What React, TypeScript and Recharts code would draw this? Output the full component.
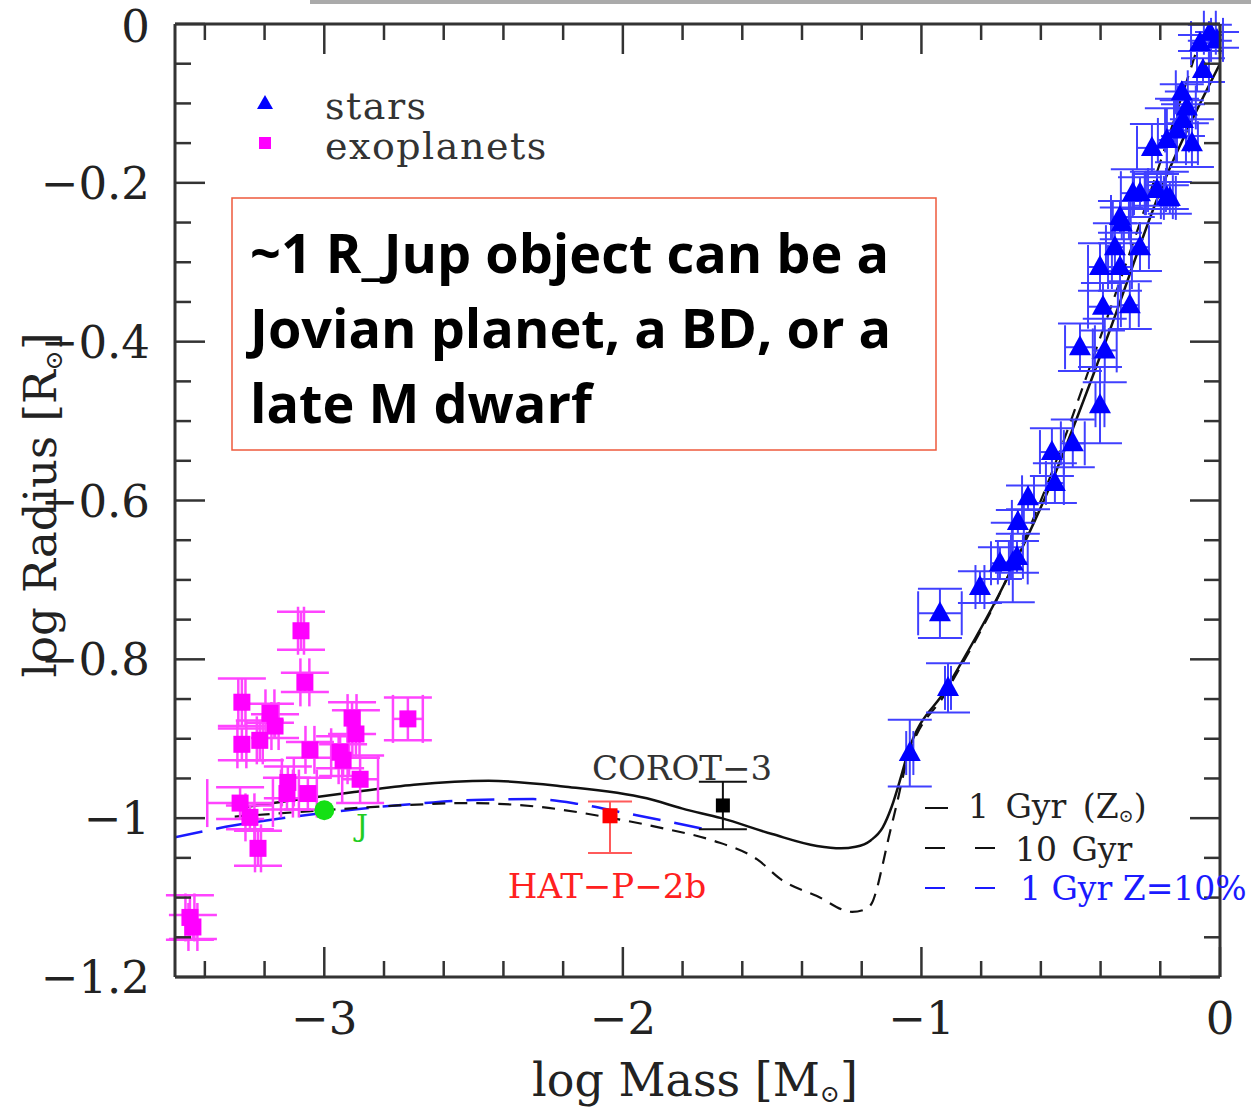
import React from 'react';
import { ComposedChart, Scatter, Line, XAxis, YAxis, ErrorBar } from 'recharts';

// observed stars: log M, log R, x err, y err
const stars = [
  { x: -1.039, y: -0.918, ex: 0.012, ey: 0.042 },
  { x: -0.911, y: -0.836, ex: 0.01, ey: 0.031 },
  { x: -0.938, y: -0.742, ex: 0.073, ey: 0.031 },
  { x: -0.804, y: -0.709, ex: 0.015, ey: 0.02 },
  { x: -0.694, y: -0.678, ex: 0.05, ey: 0.05 },
  { x: -0.737, y: -0.679, ex: 0.03, ey: 0.02 },
  { x: -0.68, y: -0.671, ex: 0.02, ey: 0.02 },
  { x: -0.677, y: -0.627, ex: 0.02, ey: 0.015 },
  { x: -0.643, y: -0.596, ex: 0.02, ey: 0.015 },
  { x: -0.553, y: -0.578, ex: 0.03, ey: 0.025 },
  { x: -0.563, y: -0.539, ex: 0.04, ey: 0.03 },
  { x: -0.493, y: -0.528, ex: 0.04, ey: 0.03 },
  { x: -0.402, y: -0.48, ex: 0.015, ey: 0.048 },
  { x: -0.469, y: -0.407, ex: 0.05, ey: 0.03 },
  { x: -0.386, y: -0.411, ex: 0.04, ey: 0.04 },
  { x: -0.392, y: -0.356, ex: 0.05, ey: 0.03 },
  { x: -0.302, y: -0.354, ex: 0.03, ey: 0.03 },
  { x: -0.402, y: -0.306, ex: 0.04, ey: 0.03 },
  { x: -0.335, y: -0.306, ex: 0.04, ey: 0.03 },
  { x: -0.352, y: -0.281, ex: 0.03, ey: 0.03 },
  { x: -0.268, y: -0.281, ex: 0.03, ey: 0.03 },
  { x: -0.329, y: -0.251, ex: 0.03, ey: 0.02 },
  { x: -0.335, y: -0.243, ex: 0.03, ey: 0.02 },
  { x: -0.268, y: -0.213, ex: 0.02, ey: 0.02 },
  { x: -0.178, y: -0.218, ex: 0.02, ey: 0.015 },
  { x: -0.292, y: -0.213, ex: 0.04, ey: 0.03 },
  { x: -0.211, y: -0.209, ex: 0.03, ey: 0.02 },
  { x: -0.168, y: -0.219, ex: 0.02, ey: 0.02 },
  { x: -0.228, y: -0.156, ex: 0.05, ey: 0.03 },
  { x: -0.178, y: -0.146, ex: 0.03, ey: 0.04 },
  { x: -0.094, y: -0.15, ex: 0.02, ey: 0.03 },
  { x: -0.144, y: -0.134, ex: 0.04, ey: 0.04 },
  { x: -0.124, y: -0.121, ex: 0.03, ey: 0.02 },
  { x: -0.111, y: -0.105, ex: 0.03, ey: 0.02 },
  { x: -0.128, y: -0.086, ex: 0.02, ey: 0.01 },
  { x: -0.057, y: -0.058, ex: 0.02, ey: 0.015 },
  { x: -0.067, y: -0.024, ex: 0.03, ey: 0.01 },
  { x: -0.034, y: -0.011, ex: 0.02, ey: 0.01 },
  { x: -0.01, y: -0.02, ex: 0.02, ey: 0.01 },
];

const planets = [
  { x: -3.078, y: -0.764, ex: 0.01, ey: 0.024 },
  { x: -3.065, y: -0.829, ex: 0.015, ey: 0.012 },
  { x: -3.276, y: -0.854, ex: 0.012, ey: 0.03 },
  { x: -3.182, y: -0.868, ex: 0.015, ey: 0.012 },
  { x: -3.165, y: -0.884, ex: 0.012, ey: 0.015 },
  { x: -3.276, y: -0.907, ex: 0.015, ey: 0.02 },
  { x: -3.216, y: -0.902, ex: 0.01, ey: 0.025 },
  { x: -3.048, y: -0.914, ex: 0.015, ey: 0.01 },
  { x: -2.907, y: -0.874, ex: 0.015, ey: 0.02 },
  { x: -2.894, y: -0.894, ex: 0.012, ey: 0.03 },
  { x: -2.72, y: -0.875, ex: 0.05, ey: 0.027 },
  { x: -2.947, y: -0.917, ex: 0.03, ey: 0.02 },
  { x: -2.937, y: -0.927, ex: 0.015, ey: 0.02 },
  { x: -2.88, y: -0.951, ex: 0.06, ey: 0.03 },
  { x: -3.122, y: -0.955, ex: 0.02, ey: 0.02 },
  { x: -3.125, y: -0.969, ex: 0.02, ey: 0.02 },
  { x: -3.055, y: -0.969, ex: 0.03, ey: 0.02 },
  { x: -3.282, y: -0.981, ex: 0.11, ey: 0.02 },
  { x: -3.249, y: -0.999, ex: 0.015, ey: 0.015 },
  { x: -3.222, y: -1.038, ex: 0.01, ey: 0.022 },
  { x: -3.45, y: -1.125, ex: 0.015, ey: 0.028 },
  { x: -3.44, y: -1.137, ex: 0.015, ey: 0.015 },
];

const jupiter = [{ x: -3.0, y: -0.99 }];
const hatP2b = [{ x: -2.043, y: -0.997, ey: [0.047, 0.018] }];
const corot3 = [{ x: -1.665, y: -0.984, ey: 0.03 }];

// model curves
const curve1Gyr = [
  { x: -3.3, y: -0.988 }, { x: -3.1, y: -0.977 }, { x: -2.9, y: -0.967 },
  { x: -2.7, y: -0.958 }, { x: -2.45, y: -0.953 }, { x: -2.2, y: -0.96 },
  { x: -1.92, y: -0.975 }, { x: -1.8, y: -0.988 }, { x: -1.67, y: -1.0 },
  { x: -1.5, y: -1.02 }, { x: -1.35, y: -1.035 }, { x: -1.27, y: -1.038 },
  { x: -1.22, y: -1.036 }, { x: -1.17, y: -1.028 }, { x: -1.13, y: -1.012 },
  { x: -1.1, y: -0.986 }, { x: -1.07, y: -0.95 }, { x: -1.048, y: -0.921 },
  { x: -0.915, y: -0.836 }, { x: -0.741, y: -0.719 }, { x: -0.59, y: -0.6 },
  { x: -0.383, y: -0.4 }, { x: -0.189, y: -0.2 }, { x: 0, y: -0.05 },
];

const curve10Gyr = [
  { x: -3.3, y: -0.998 }, { x: -3.0, y: -0.99 }, { x: -2.75, y: -0.984 },
  { x: -2.52, y: -0.981 }, { x: -2.3, y: -0.985 }, { x: -2.05, y: -0.999 },
  { x: -1.85, y: -1.014 }, { x: -1.7, y: -1.028 }, { x: -1.55, y: -1.052 },
  { x: -1.467, y: -1.078 }, { x: -1.35, y: -1.098 }, { x: -1.232, y: -1.118 },
  { x: -1.19, y: -1.115 }, { x: -1.166, y: -1.107 }, { x: -1.15, y: -1.09 },
  { x: -1.132, y: -1.062 }, { x: -1.11, y: -1.025 }, { x: -1.085, y: -0.986 },
  { x: -1.05, y: -0.93 }, { x: -0.915, y: -0.84 }, { x: -0.741, y: -0.72 },
  { x: -0.6, y: -0.6 }, { x: -0.406, y: -0.4 }, { x: -0.223, y: -0.2 },
  { x: -0.05, y: 0 },
];

const curveZ10 = [
  { x: -3.5, y: -1.024 }, { x: -3.3, y: -1.009 }, { x: -3.1, y: -0.998 },
  { x: -2.9, y: -0.989 }, { x: -2.7, y: -0.982 }, { x: -2.5, y: -0.977 },
  { x: -2.3, y: -0.976 }, { x: -2.15, y: -0.982 }, { x: -2.0, y: -0.993 },
  { x: -1.85, y: -1.004 }, { x: -1.71, y: -1.015 },
];

const xTicks = [-3.4, -3.2, -3, -2.8, -2.6, -2.4, -2.2, -2, -1.8, -1.6, -1.4, -1.2, -1, -0.8, -0.6, -0.4, -0.2, 0];
const yTicks = [
  0, -0.05, -0.1, -0.15, -0.2, -0.25, -0.3, -0.35, -0.4, -0.45, -0.5, -0.55, -0.6,
  -0.65, -0.7, -0.75, -0.8, -0.85, -0.9, -0.95, -1, -1.05, -1.1, -1.15, -1.2,
];

const SERIF = '"DejaVu Serif", serif';
const AXIS = '#333';

const fmt = (v: number) => (Math.abs(v) < 1e-9 ? '0' : '\u2212' + String(Math.abs(v)));
const isMajorX = (v: number) => Math.abs(v - Math.round(v)) < 1e-6;
const isMajorY = (v: number) => Math.abs(v * 5 - Math.round(v * 5)) < 1e-6;

const XTick = (top: boolean) => (props: any) => {
  const { x, y, payload } = props;
  const v = payload.value;
  const len = isMajorX(v) ? 30 : 16;
  return (
    <g>
      <line x1={x} x2={x} y1={y} y2={top ? y + len : y - len} stroke={AXIS} strokeWidth={2.5} />
      {!top && isMajorX(v) && (
        <text x={x} y={y + 57} textAnchor="middle" fontFamily={SERIF} fontSize={45} fill="#222">
          {fmt(v)}
        </text>
      )}
    </g>
  );
};

const YTick = (right: boolean) => (props: any) => {
  const { x, y, payload } = props;
  const v = payload.value;
  const len = isMajorY(v) ? 30 : 16;
  return (
    <g>
      <line x1={x} x2={right ? x - len : x + len} y1={y} y2={y} stroke={AXIS} strokeWidth={2.5} />
      {!right && isMajorY(v) && (
        <text x={x - 25} y={v === 0 ? y + 18 : y + 16} textAnchor="end" fontFamily={SERIF} fontSize={45} fill="#222">
          {fmt(v)}
        </text>
      )}
    </g>
  );
};

const Triangle = (props: any) => {
  const { cx, cy } = props;
  return <polygon points={`${cx},${cy - 12} ${cx - 11},${cy + 8} ${cx + 11},${cy + 8}`} fill="#0000ff" />;
};

const Square = (color: string, s: number) => (props: any) => {
  const { cx, cy } = props;
  return <rect x={cx - s / 2} y={cy - s / 2} width={s} height={s} fill={color} />;
};

const Dot = (props: any) => <circle cx={props.cx} cy={props.cy} r={10} fill="#14e014" />;

export default function App() {
  return (
    <div style={{ position: 'absolute', left: 0, top: 0, width: 1251, height: 1108, background: '#fff' }}>
      <ComposedChart width={1251} height={1108} margin={{ top: 23, right: 30, bottom: 130, left: 174 }}>
        <XAxis xAxisId="b" dataKey="x" type="number" domain={[-3.5, 0]} allowDataOverflow ticks={xTicks}
          interval={0} height={1} tickSize={0} tickMargin={0} tickLine={false}
          axisLine={{ stroke: AXIS, strokeWidth: 3 }} tick={XTick(false)} />
        <XAxis xAxisId="t" orientation="top" dataKey="x" type="number" domain={[-3.5, 0]} allowDataOverflow
          ticks={xTicks} interval={0} height={1} tickSize={0} tickMargin={0} tickLine={false}
          axisLine={{ stroke: AXIS, strokeWidth: 3 }} tick={XTick(true)} />
        <YAxis yAxisId="l" dataKey="y" type="number" domain={[-1.2, 0]} allowDataOverflow ticks={yTicks}
          interval={0} width={1} tickSize={0} tickMargin={0} tickLine={false}
          axisLine={{ stroke: AXIS, strokeWidth: 3 }} tick={YTick(false)} />
        <YAxis yAxisId="r" orientation="right" dataKey="y" type="number" domain={[-1.2, 0]} allowDataOverflow
          ticks={yTicks} interval={0} width={1} tickSize={0} tickMargin={0} tickLine={false}
          axisLine={{ stroke: AXIS, strokeWidth: 3 }} tick={YTick(true)} />

        <Line xAxisId="b" yAxisId="l" data={curveZ10} dataKey="y" type="monotone" stroke="#1a1aff"
          strokeWidth={2.5} strokeDasharray="28 14" dot={false} isAnimationActive={false} />
        <Line xAxisId="b" yAxisId="l" data={curve10Gyr} dataKey="y" type="monotone" stroke="#111"
          strokeWidth={2.2} strokeDasharray="13 9" dot={false} isAnimationActive={false} />
        <Line xAxisId="b" yAxisId="l" data={curve1Gyr} dataKey="y" type="monotone" stroke="#111"
          strokeWidth={2.5} dot={false} isAnimationActive={false} />

        <Scatter xAxisId="b" yAxisId="l" data={planets} dataKey="y" shape={Square('#ff00ff', 17)} isAnimationActive={false}>
          <ErrorBar dataKey="ey" direction="y" width={24} stroke="#ff44ff" strokeWidth={2.5} />
          <ErrorBar dataKey="ex" direction="x" width={24} stroke="#ff44ff" strokeWidth={2.5} />
        </Scatter>
        <Scatter xAxisId="b" yAxisId="l" data={stars} dataKey="y" shape={Triangle} isAnimationActive={false}>
          <ErrorBar dataKey="ey" direction="y" width={22} stroke="#4040ff" strokeWidth={2} />
          <ErrorBar dataKey="ex" direction="x" width={22} stroke="#4040ff" strokeWidth={2} />
        </Scatter>
        <Scatter xAxisId="b" yAxisId="l" data={hatP2b} dataKey="y" shape={Square('#ff0000', 15)} isAnimationActive={false}>
          <ErrorBar dataKey="ey" direction="y" width={22} stroke="#ff5a5a" strokeWidth={2} />
        </Scatter>
        <Scatter xAxisId="b" yAxisId="l" data={corot3} dataKey="y" shape={Square('#000000', 14)} isAnimationActive={false}>
          <ErrorBar dataKey="ey" direction="y" width={24} stroke="#111" strokeWidth={2} />
        </Scatter>
        <Scatter xAxisId="b" yAxisId="l" data={jupiter} dataKey="y" shape={Dot} isAnimationActive={false} />
      </ComposedChart>

      <svg width={1251} height={1108} style={{ position: 'absolute', left: 0, top: 0, pointerEvents: 'none' }}>
        <rect x={310} y={0} width={941} height={4} fill="#aaa" />

        {/* symbol legend */}
        <polygon points="265,95 257,109 273,109" fill="#0000ff" />
        <rect x={259} y={137} width={12} height={12} fill="#ff00ff" />
        <text x={325} y={119} fontFamily={SERIF} fontSize={38} fill="#333" letterSpacing={1.5}>stars</text>
        <text x={325} y={159} fontFamily={SERIF} fontSize={38} fill="#333" letterSpacing={1.5}>exoplanets</text>

        {/* note box */}
        <rect x={232} y={198} width={704} height={252} fill="#fff" stroke="#ee5a3c" strokeWidth={1.5} />
        <g fontFamily='"Open Sans", sans-serif' fontWeight={700} fontSize={54} fill="#000">
          <text x={250} y={273}>~1 R_Jup object can be a</text>
          <text x={250} y={348}>Jovian planet, a BD, or a</text>
          <text x={250} y={423}>late M dwarf</text>
        </g>

        {/* model legend */}
        <line x1={925} x2={948} y1={808} y2={808} stroke="#111" strokeWidth={2} />
        <line x1={925} x2={945} y1={848} y2={848} stroke="#111" strokeWidth={2} />
        <line x1={975} x2={995} y1={848} y2={848} stroke="#111" strokeWidth={2} />
        <line x1={925} x2={945} y1={888} y2={888} stroke="#1a1aff" strokeWidth={2} />
        <line x1={975} x2={995} y1={888} y2={888} stroke="#1a1aff" strokeWidth={2} />
        <g fontFamily={SERIF} fontSize={33}>
          <text x={968} y={818} fill="#222" wordSpacing={6}>1 Gyr (Z<tspan fontSize={18} dy={4}>{'\u2299'}</tspan><tspan dy={-4}>)</tspan></text>
          <text x={1015} y={861} fill="#222" wordSpacing={4}>10 Gyr</text>
          <text x={1020} y={900} fill="#1a1aff">1 Gyr Z=10%</text>
        </g>

        {/* annotations */}
        <text x={682} y={780} textAnchor="middle" fontFamily={SERIF} fontSize={34} fill="#333">COROT{'\u2212'}3</text>
        <text x={607} y={898} textAnchor="middle" fontFamily={SERIF} fontSize={34} fill="#ff2020">HAT{'\u2212'}P{'\u2212'}2b</text>
        <text x={362} y={836} textAnchor="middle" fontFamily={SERIF} fontSize={30} fill="#22cc22">J</text>

        {/* axis titles */}
        <text x={695} y={1096} textAnchor="middle" fontFamily={SERIF} fontSize={46} fill="#222">
          log Mass [M<tspan fontSize={24} dy={6}>{'\u2299'}</tspan><tspan dy={-6}>]</tspan>
        </text>
        <text x={56} y={505} transform="rotate(-90 56 505)" textAnchor="middle" fontFamily={SERIF} fontSize={45} fill="#222">
          log Radius [R<tspan fontSize={24} dy={6}>{'\u2299'}</tspan><tspan dy={-6}>]</tspan>
        </text>
      </svg>
    </div>
  );
}
